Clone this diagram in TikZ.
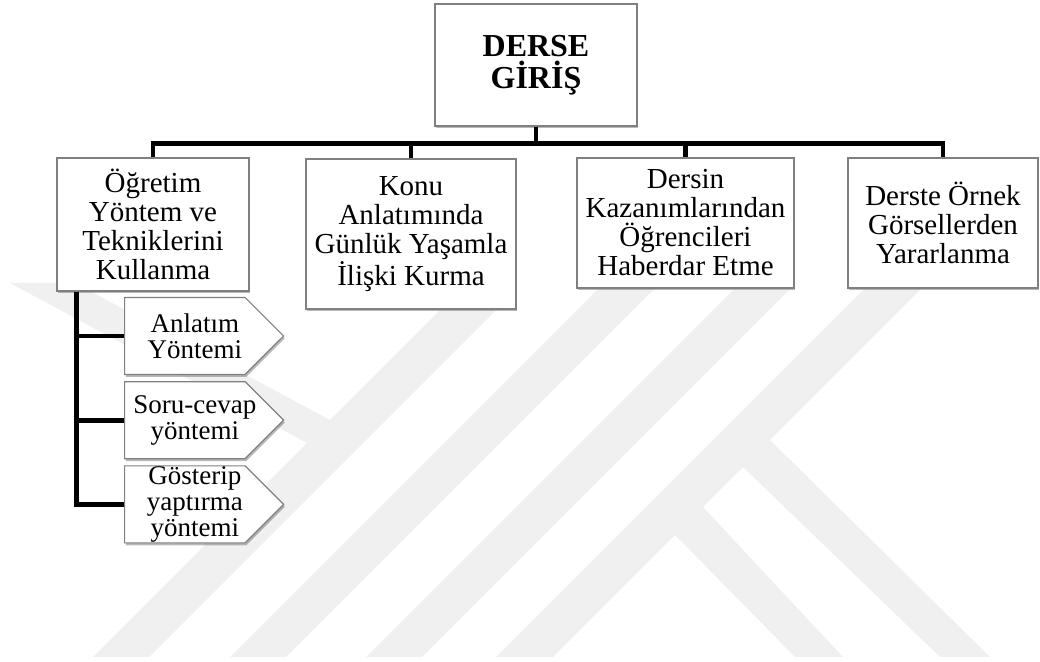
\documentclass[tikz,border=0pt]{standalone}
\usepackage{fontspec}
\setmainfont{Liberation Serif}
\usetikzlibrary{positioning, shapes.symbols, shadows}

\tikzset{
  box/.style={draw=black!50, line width=0.6pt, fill=white, align=center, inner sep=0pt,
    drop shadow={shadow xshift=0.6pt, shadow yshift=-1.2pt, fill=black!55, opacity=0.5},
    font=\fontsize{14.5}{14.5}\selectfont},
  subbox/.style={box, shape=signal, signal to=east, signal pointer angle=90,
    minimum width=79.5pt, minimum height=38.5pt},
  subtext/.style={font=\fontsize{13.5}{13}\selectfont, align=center, inner sep=0pt, xshift=5pt},
  link/.style={line width=2.4pt}
}

\begin{document}
\begin{tikzpicture}[x=0.5pt, y=-0.5pt]
\useasboundingbox (0,0) rectangle (1040,662);

% watermark
\fill[black!6] (10,283) -- (75,283) -- (330,420) -- (307,443) -- cycle;
\fill[black!6] (450,300) -- (506,300) -- (149,657) -- (93,657) -- cycle;
\fill[black!6] (627,260) -- (683,260) -- (286,657) -- (230,657) -- cycle;
\fill[black!6] (733,290) -- (789,290) -- (422,657) -- (366,657) -- cycle;
\fill[black!6] (893,260) -- (950,260) -- (553,657) -- (496,657) -- cycle;
\fill[black!6] (770,440) -- (990,657) -- (940,657) -- (743,467) -- cycle;
\fill[black!6] (703,507) -- (843,657) -- (795,657) -- (675,535) -- cycle;

% top box
\node[box, minimum width=101pt, minimum height=61pt,
      font=\bfseries\fontsize{16}{16}\selectfont] (derse) at (536,65) {DERSE\\GİRİŞ};

% main items
\node[box, minimum width=96pt, minimum height=66.5pt] (ogretim) at (153,224.5)
  {Öğretim\\Yöntem ve\\Tekniklerini\\Kullanma};
\node[box, minimum width=105pt, minimum height=75pt] (konu) at (411,234)
  {Konu\\Anlatımında\\Günlük Yaşamla\\İlişki Kurma};
\node[box, minimum width=108.5pt, minimum height=65pt] (dersin) at (685.5,223)
  {Dersin\\Kazanımlarından\\Öğrencileri\\Haberdar Etme};
\node[box, minimum width=95pt, minimum height=65pt] (derste) at (943,223)
  {Derste Örnek\\Görsellerden\\Yararlanma};

% connectors
\coordinate (hub) at ([yshift=-8.5pt]derse.south);
\foreach \k in {ogretim,konu,dersin,derste}
  \draw[link] (derse.south) -- (hub) -| (\k.north);

% sub items
\node[subbox, anchor=west, label={[subtext, name=anlatimtext]center:{Anlatım\\Yöntemi}}]
  (anlatim) at (124,336) {};
\node[subbox, below=3pt of anlatim, label={[subtext, name=sorutext]center:{Soru-cevap\\yöntemi}}]
  (soru) {};
\node[subbox, below=3pt of soru, label={[subtext, name=gosteriptext]center:{Gösterip\\yaptırma\\yöntemi}}]
  (gosterip) {};

\coordinate (trunk) at ([xshift=10pt]ogretim.south west);
\foreach \k in {anlatim,soru,gosterip}
  \draw[link] (trunk) |- (\k.west);
\end{tikzpicture}
\end{document}
